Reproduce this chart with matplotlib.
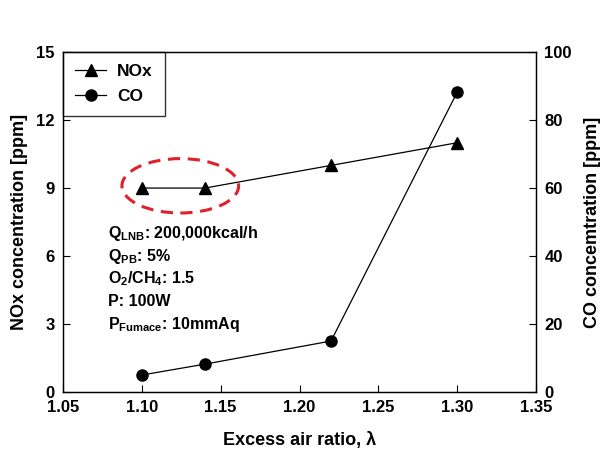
import matplotlib.pyplot as plt
from matplotlib.patches import Ellipse

plt.rcParams['font.family'] = ['Liberation Sans', 'DejaVu Sans']
plt.rcParams['font.weight'] = 'bold'
plt.rcParams['mathtext.fontset'] = 'custom'
plt.rcParams['mathtext.rm'] = 'Liberation Sans:bold'
plt.rcParams['mathtext.it'] = 'Liberation Sans:bold'
plt.rcParams['mathtext.bf'] = 'Liberation Sans:bold'

# data
air_ratio = [1.10, 1.14, 1.22, 1.30]
nox = [9.0, 9.0, 10.0, 11.0]
co = [5.0, 8.2, 15.0, 88.2]

x_ticks = [1.05, 1.10, 1.15, 1.20, 1.25, 1.30, 1.35]
nox_ticks = [0, 3, 6, 9, 12, 15]
co_ticks = [0, 20, 40, 60, 80, 100]

conditions = [
    r'$\mathregular{Q_{LNB}}$: 200,000kcal/h',
    r'$\mathregular{Q_{PB}}$: 5%',
    r'$\mathregular{O_2/CH_4}$: 1.5',
    'P: 100W',
    r'$\mathregular{P_{Fumace}}$: 10mmAq',
]

fig = plt.figure(figsize=(6.08, 4.57), dpi=100)
ax = fig.add_axes([0.1036, 0.1422, 0.7780, 0.7438])
ax2 = ax.twinx()

l1, = ax.plot(air_ratio, nox, color='black', lw=0.9, marker='^', ms=9, label='NOx')
l2, = ax2.plot(air_ratio, co, color='black', lw=0.9, marker='o', ms=8, label='CO')

ax.set_xlim(1.05, 1.35)
ax.set_ylim(0, 15)
ax2.set_ylim(0, 100)
ax.set_xticks(x_ticks)
ax.set_xticklabels([f'{v:.2f}' for v in x_ticks])
ax.set_yticks(nox_ticks)
ax2.set_yticks(co_ticks)

for a in (ax, ax2):
    a.tick_params(direction='in', length=5, width=0.8, labelsize=12, pad=6)
    for s in a.spines.values():
        s.set_linewidth(0.9)

ax.set_xlabel('Excess air ratio, λ', fontsize=13, fontweight='bold', labelpad=12)
ax.set_ylabel('NOx concentration [ppm]', fontsize=13, fontweight='bold', labelpad=6)
ax2.set_ylabel('CO concemtration [ppm]', fontsize=13, fontweight='bold', labelpad=9)

# highlight of the first two NOx points
ell = Ellipse((1.1244, 9.1), 0.074, 2.4, fill=False, edgecolor='#e0202a',
              lw=2.2, ls=(0, (4, 2.5)), zorder=5)
ax.add_patch(ell)

y0 = 7.0
for i, t in enumerate(conditions):
    ax.text(1.0785, y0 - i * 1.0, t, fontsize=11.5, fontweight='bold', va='center', ha='left')

leg = ax.legend(handles=[l1, l2], loc='upper left', fontsize=12.5, frameon=True,
                fancybox=False, borderaxespad=0, handlelength=1.8, borderpad=0.7,
                labelspacing=0.55, handletextpad=0.6)
leg.get_frame().set_edgecolor('black')
leg.get_frame().set_linewidth(1.0)

fig.savefig('out.png', dpi=100)
